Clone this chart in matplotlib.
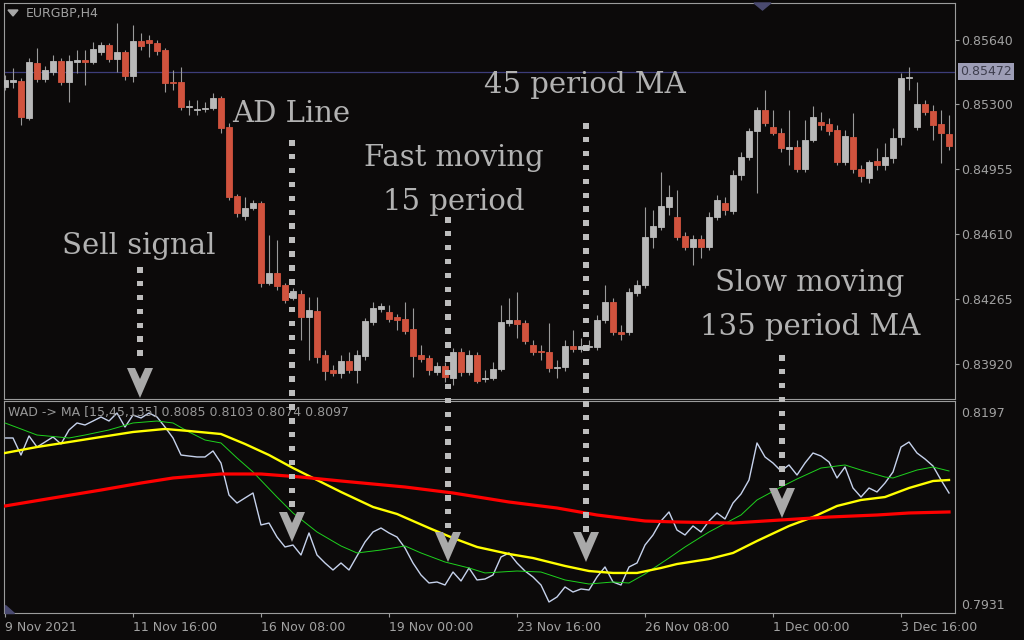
import numpy as np
import matplotlib
matplotlib.use("Agg")
import matplotlib.pyplot as plt
from matplotlib.patches import Rectangle, Polygon
import matplotlib.transforms as mtransforms

plt.rcParams['font.family'] = ['DejaVu Sans']

# ---------------- data ----------------
symbol = "EURGBP,H4"
open_ = [0.85391,0.85417,0.85422,0.85226,0.85518,0.85433,0.85470,0.85529,0.85417,0.85523,
         0.85534,0.85523,0.85576,0.85613,0.85539,0.85576,0.85449,0.85635,0.85640,0.85624,
         0.85587,0.85417,0.85417,0.85284,0.85268,0.85274,0.85279,0.85332,0.85178,0.84812,
         0.84706,0.84749,0.84775,0.84350,0.84403,0.84340,0.84271,0.84292,0.84170,0.84202,
         0.83968,0.83889,0.83873,0.83937,0.83889,0.83963,0.84143,0.84212,0.84196,0.84170,
         0.84159,0.84106,0.83968,0.83952,0.83878,0.83910,0.83846,0.83984,0.83878,0.83968,
         0.83841,0.83846,0.83894,0.84138,0.84154,0.84138,0.84021,0.83989,0.83984,0.83899,
         0.83905,0.84016,0.84000,0.84011,0.84011,0.84154,0.84249,0.84090,0.84090,0.84297,
         0.84340,0.84595,0.84648,0.84754,0.84701,0.84600,0.84541,0.84584,0.84541,0.84701,
         0.84775,0.84732,0.84923,0.85019,0.85157,0.85268,0.85178,0.85146,0.85061,0.85072,
         0.84955,0.85109,0.85205,0.85194,0.85162,0.84992,0.85125,0.84955,0.84908,0.84998,
         0.84977,0.85014,0.85125,0.85438,0.85178,0.85300,0.85263,0.85194,0.85141]
close = [0.85428,0.85428,0.85231,0.85523,0.85433,0.85481,0.85529,0.85417,0.85529,0.85534,
         0.85523,0.85592,0.85613,0.85539,0.85576,0.85449,0.85635,0.85608,0.85624,0.85582,
         0.85412,0.85412,0.85284,0.85290,0.85274,0.85279,0.85332,0.85173,0.84807,0.84722,
         0.84749,0.84775,0.84350,0.84403,0.84334,0.84260,0.84308,0.84170,0.84207,0.83958,
         0.83884,0.83873,0.83937,0.83889,0.83968,0.84149,0.84218,0.84228,0.84159,0.84154,
         0.84096,0.83963,0.83947,0.83889,0.83910,0.83852,0.83984,0.83878,0.83968,0.83831,
         0.83846,0.83894,0.84143,0.84154,0.84133,0.84043,0.83984,0.83984,0.83899,0.83905,
         0.84016,0.84000,0.84016,0.84016,0.84154,0.84249,0.84090,0.84080,0.84302,0.84340,
         0.84595,0.84653,0.84759,0.84807,0.84595,0.84541,0.84584,0.84541,0.84701,0.84791,
         0.84738,0.84923,0.85019,0.85157,0.85268,0.85199,0.85146,0.85067,0.85072,0.84955,
         0.85109,0.85231,0.85189,0.85157,0.84992,0.85130,0.84955,0.84918,0.84992,0.84977,
         0.85019,0.85120,0.85438,0.85444,0.85300,0.85258,0.85189,0.85146,0.85077]
high = [0.85454,0.85491,0.85438,0.85544,0.85598,0.85502,0.85560,0.85544,0.85560,0.85587,
        0.85587,0.85629,0.85629,0.85624,0.85730,0.85587,0.85720,0.85677,0.85667,0.85640,
        0.85598,0.85481,0.85497,0.85322,0.85322,0.85311,0.85359,0.85343,0.85199,0.84823,
        0.84807,0.84791,0.84786,0.84605,0.84578,0.84350,0.84324,0.84313,0.84276,0.84276,
        0.83995,0.83915,0.83968,0.83984,0.83995,0.84164,0.84249,0.84244,0.84234,0.84186,
        0.84249,0.84218,0.84021,0.83968,0.83931,0.83931,0.84005,0.84005,0.83995,0.83984,
        0.83889,0.83931,0.84234,0.84271,0.84302,0.84154,0.84048,0.84021,0.84138,0.83942,
        0.84048,0.84101,0.84058,0.84048,0.84180,0.84340,0.84271,0.84127,0.84324,0.84366,
        0.84754,0.84738,0.84939,0.84870,0.84844,0.84621,0.84605,0.84605,0.84727,0.84817,
        0.84807,0.84950,0.85046,0.85173,0.85284,0.85375,0.85268,0.85173,0.85268,0.85109,
        0.85215,0.85290,0.85258,0.85226,0.85189,0.85162,0.85253,0.84977,0.85003,0.85067,
        0.85093,0.85173,0.85465,0.85497,0.85417,0.85322,0.85295,0.85268,0.85242]
low = [0.85375,0.85385,0.85189,0.85215,0.85417,0.85417,0.85454,0.85401,0.85311,0.85465,
       0.85401,0.85513,0.85560,0.85523,0.85470,0.85428,0.85417,0.85587,0.85550,0.85560,
       0.85364,0.85375,0.85268,0.85242,0.85242,0.85258,0.85268,0.85146,0.84791,0.84701,
       0.84685,0.84738,0.84329,0.84340,0.84313,0.84244,0.84260,0.84048,0.83942,0.83926,
       0.83836,0.83857,0.83846,0.83873,0.83820,0.83942,0.84127,0.84196,0.84143,0.84101,
       0.84080,0.83852,0.83931,0.83862,0.83862,0.83825,0.83809,0.83857,0.83862,0.83820,
       0.83825,0.83836,0.83884,0.84122,0.84058,0.84026,0.83968,0.83942,0.83878,0.83846,
       0.83884,0.83984,0.83984,0.83995,0.83995,0.84138,0.84074,0.84048,0.84074,0.84281,
       0.84324,0.84536,0.84632,0.84711,0.84578,0.84525,0.84446,0.84483,0.84525,0.84685,
       0.84711,0.84717,0.84897,0.85003,0.84828,0.85184,0.85136,0.85046,0.84977,0.84939,
       0.84939,0.85099,0.85162,0.85136,0.84977,0.84977,0.84934,0.84886,0.84881,0.84950,
       0.84950,0.84987,0.85083,0.85375,0.85162,0.85242,0.85109,0.84987,0.85056]

wad = [0.81610,0.81610,0.81374,0.81638,0.81485,0.81554,0.81624,0.81527,0.81721,0.81818,
       0.81790,0.81845,0.81901,0.81845,0.81956,0.81762,0.81928,0.81887,0.81956,0.81901,
       0.81762,0.81610,0.81374,0.81360,0.81347,0.81347,0.81430,0.81263,0.80820,0.80709,
       0.80779,0.80848,0.80405,0.80432,0.80238,0.80100,0.80127,0.79989,0.80294,0.79989,
       0.79878,0.79781,0.79878,0.79781,0.79975,0.80169,0.80308,0.80363,0.80294,0.80238,
       0.80086,0.79878,0.79712,0.79601,0.79615,0.79573,0.79753,0.79629,0.79809,0.79643,
       0.79656,0.79712,0.79961,0.80017,0.79878,0.79767,0.79684,0.79573,0.79338,0.79407,
       0.79546,0.79476,0.79518,0.79504,0.79684,0.79823,0.79615,0.79573,0.79823,0.79878,
       0.80127,0.80266,0.80460,0.80585,0.80335,0.80266,0.80391,0.80308,0.80460,0.80571,
       0.80488,0.80709,0.80834,0.81028,0.81541,0.81347,0.81263,0.81153,0.81236,0.81097,
       0.81263,0.81402,0.81360,0.81277,0.81056,0.81208,0.80917,0.80792,0.80917,0.80862,
       0.80986,0.81139,0.81485,0.81554,0.81402,0.81319,0.81222,0.81028,0.80848]

ma15_bar = [0,2,4,8,10,13,16,19,21,23,25,27,29,31,34,36,39,42,44,47,50,52,55,58,60,64,67,70,
            73,76,78,80,83,85,88,92,94,97,99,102,105,107,110,111,114,116,118]
ma15 = [0.81818,0.81735,0.81651,0.81610,0.81651,0.81721,0.81818,0.81845,0.81818,0.81693,
        0.81582,0.81541,0.81333,0.81139,0.80792,0.80571,0.80308,0.80114,0.80017,0.80058,
        0.80114,0.80017,0.79892,0.79809,0.79740,0.79767,0.79753,0.79643,0.79587,0.79615,
        0.79601,0.79726,0.79947,0.80100,0.80308,0.80543,0.80751,0.80931,0.81042,0.81194,
        0.81236,0.81166,0.81069,0.81056,0.81166,0.81208,0.81153]
ma45_bar = [0,4,8,12,16,20,23,27,30,33,36,39,42,46,49,53,56,59,63,66,70,73,76,79,82,84,88,91,
            94,98,101,104,107,110,113,116,118]
ma45 = [0.81402,0.81485,0.81554,0.81624,0.81693,0.81735,0.81707,0.81665,0.81527,0.81374,
        0.81194,0.81028,0.80862,0.80654,0.80557,0.80363,0.80224,0.80100,0.80003,0.79947,
        0.79837,0.79767,0.79740,0.79740,0.79809,0.79864,0.79933,0.80017,0.80183,0.80391,
        0.80515,0.80668,0.80751,0.80792,0.80917,0.81014,0.81028]
ma135_bar = [0,6,12,17,21,27,32,37,42,50,56,63,69,74,80,84,91,97,103,109,113,118]
ma135 = [0.80668,0.80779,0.80889,0.80986,0.81056,0.81111,0.81111,0.81069,0.81014,0.80931,
         0.80848,0.80723,0.80640,0.80543,0.80460,0.80446,0.80432,0.80474,0.80515,0.80543,
         0.80571,0.80585]

x_tick_bar = [0, 16, 32, 48, 64, 80, 96, 112]
x_tick_labels = ["9 Nov 2021", "11 Nov 16:00", "16 Nov 08:00", "19 Nov 00:00",
                 "23 Nov 16:00", "26 Nov 08:00", "1 Dec 00:00", "3 Dec 16:00"]
price_ticks = [0.85640, 0.85300, 0.84955, 0.84610, 0.84265, 0.83920]
price_line = 0.85472
ind_ticks = [0.8197, 0.7931]
ind_label = "WAD -> MA [15,45,135] 0.8085 0.8103 0.8074 0.8097"

# annotations: (text, centre x px, baseline y px)
notes = [("Sell signal", 139, 254), ("AD Line", 291, 122), ("45 period MA", 585, 93),
         ("Fast moving", 454, 166), ("15 period", 454, 210),
         ("Slow moving", 810, 291), ("135 period MA", 810, 335)]
# dotted arrows: (x px, first dot y px, arrow head top y px)
arrows = [(140, 267, 368), (292, 140, 512), (448, 217, 532), (586, 123, 532), (782, 355, 488)]

# ---------------- style ----------------
BG = '#0c0a0a'
BULL = '#b9b9b9'
BEAR = '#d1533e'
WICK = '#9a9a9a'
SPINE = '#9c9c9c'
TXT = '#a2a2a2'
W, H = 1024, 640

def px_rect(l, t, r, b):
    return [l / W, 1 - b / H, (r - l) / W, (b - t) / H]

fig = plt.figure(figsize=(W / 100, H / 100), dpi=100, facecolor=BG)
L, R = 3.5, 954.5
xl = ((L - 5) / 8, (R - 5) / 8)

# ---- price panel ----
ax = fig.add_axes(px_rect(L, 3, R, 399))
ax.set_facecolor(BG)
xb = np.arange(len(open_))
o = np.array(open_); c = np.array(close)
hi = np.array(high); lo = np.array(low)
cols = np.where(c >= o, BULL, BEAR)
ax.axhline(price_line, color='#3d3d7a', lw=0.9, zorder=1)
ax.vlines(xb, lo, hi, color=WICK, lw=0.8, zorder=2)
ax.bar(xb, np.abs(c - o), bottom=np.minimum(o, c), width=0.72, color=cols,
       edgecolor=cols, linewidth=0.6, zorder=3)
ax.set_xlim(*xl)
ax.set_ylim(0.837345, 0.858364)
ax.yaxis.tick_right()
ax.set_yticks(price_ticks)
ax.set_yticklabels([f"{v:.5f}" for v in price_ticks])
ax.tick_params(axis='y', colors=SPINE, labelcolor=TXT, labelsize=9, length=3,
               width=0.8, pad=2)
ax.tick_params(axis='x', bottom=False, labelbottom=False)
for s in ax.spines.values():
    s.set_color(SPINE); s.set_linewidth(0.8)
tr = mtransforms.blended_transform_factory(ax.transAxes, ax.transData)
ax.text(1.0 + 5.5 / (R - L), price_line, f"{price_line:.5f}", transform=tr, ha='left',
        va='center', fontsize=9, color='#3e3e4e',
        bbox=dict(boxstyle='square,pad=0.18', fc='#9d9db6', ec='none'))

# ---- indicator panel ----
axi = fig.add_axes(px_rect(L, 401, R, 613))
axi.set_facecolor(BG)
axi.plot(xb, wad, color='#c6d2ec', lw=1.0, zorder=2)
axi.plot(ma15_bar, ma15, color='#1ed21e', lw=0.7, zorder=3)
axi.plot(ma45_bar, ma45, color='#ffff00', lw=1.7, zorder=4)
axi.plot(ma135_bar, ma135, color='#ff0000', lw=2.3, zorder=5)
axi.set_xlim(*xl)
axi.set_ylim(0.791853, 0.821224)
axi.yaxis.tick_right()
axi.set_yticks(ind_ticks)
axi.set_yticklabels([f"{v:.4f}" for v in ind_ticks])
axi.tick_params(axis='y', length=0, labelcolor=TXT, labelsize=9, pad=5)
axi.set_xticks(x_tick_bar)
axi.set_xticklabels(x_tick_labels, ha='left')
axi.tick_params(axis='x', colors=SPINE, labelcolor=TXT, labelsize=9, length=3,
                width=0.8, pad=2.5)
for s in axi.spines.values():
    s.set_color(SPINE); s.set_linewidth(0.8)
axi.text(9 / (R - L) - 0.005, 0.945, ind_label, transform=axi.transAxes, ha='left',
         va='center', fontsize=9, color='#989898', zorder=6)

# ---- overlay (pixel coordinates) ----
ov = fig.add_axes([0, 0, 1, 1], zorder=10)
ov.set_xlim(0, W); ov.set_ylim(H, 0)
ov.axis('off'); ov.patch.set_visible(False)

ov.add_patch(Polygon([(8, 10), (18, 10), (13, 16)], closed=True, color='#a8a8a8'))
ov.text(26, 14, symbol, fontsize=9, color=TXT, ha='left', va='center')
ov.add_patch(Polygon([(754, 3), (771, 3), (762.5, 10)], closed=True, color='#4a4a70'))
ov.add_patch(Polygon([(5, 605), (5, 613), (14, 613)], closed=True, color='#4a4a70'))

for txt, cx, by in notes:
    ov.text(cx, by, txt, fontsize=21, family='DejaVu Serif', color='#b2b2b2',
            ha='center', va='baseline')

for cx, y0, yt in arrows:
    for yy in np.arange(y0, yt - 4, 13.9):
        ov.add_patch(Rectangle((cx - 3, yy), 6, 5.5, color='#bdbdbd', lw=0))
    hw = 13
    ov.add_patch(Polygon([(cx - hw, yt), (cx - hw + 8, yt), (cx, yt + 11),
                          (cx + hw - 8, yt), (cx + hw, yt), (cx, yt + 30)],
                         closed=True, color='#a9a9a9', lw=0))

fig.savefig("out.png", dpi=100, facecolor=BG)
